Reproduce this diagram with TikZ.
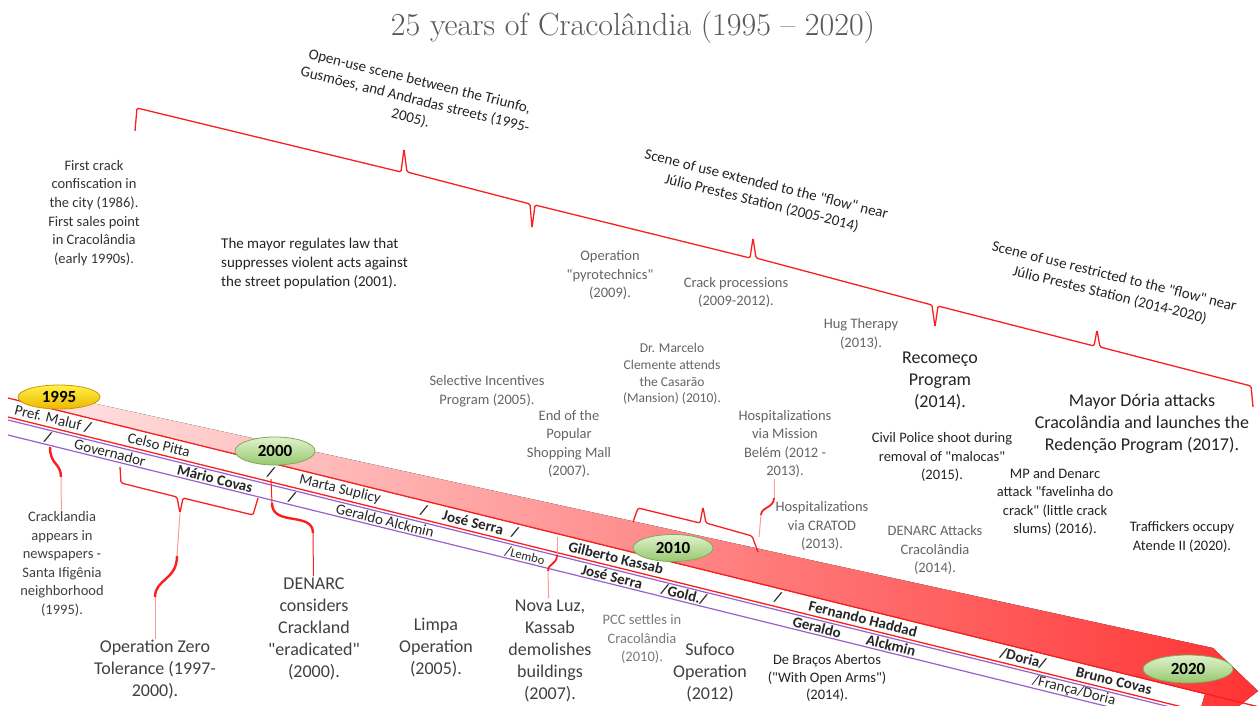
\documentclass[tikz,border=0pt]{standalone}
\usepackage{fontspec}
\newfontfamily\carlito{Carlito}
\usetikzlibrary{shapes.geometric}

\definecolor{lnred}{RGB}{250,30,30}
\definecolor{lnpurple}{RGB}{155,95,205}
\definecolor{txtdark}{RGB}{35,35,35}
\definecolor{txtmid}{RGB}{64,64,64}
\definecolor{txtgray}{RGB}{100,100,100}
\definecolor{greenhi}{RGB}{225,242,205}
\definecolor{greenlo}{RGB}{150,200,110}
\definecolor{greenln}{RGB}{125,170,90}
\definecolor{goldhi}{RGB}{255,242,70}
\definecolor{goldlo}{RGB}{238,182,0}
\definecolor{goldln}{RGB}{205,150,0}

\tikzset{
  bigtxt/.style={align=center,inner sep=1pt,text=txtmid,font=\carlito\fontsize{18}{22}\selectfont},
  darktxt/.style={bigtxt,text=txtdark},
  medtxt/.style={align=center,inner sep=1pt,text=txtdark,font=\carlito\fontsize{14.5}{18.6}\selectfont},
  graytxt/.style={medtxt,text=txtgray},
  toptxt/.style={align=center,rotate=-13.9,inner sep=1pt,text=txtdark,font=\carlito\fontsize{15}{19}\selectfont},
  onband/.style={rotate=-13.9,inner sep=0pt,text=black!85,font=\carlito\fontsize{15}{15}\selectfont},
  onbandb/.style={onband,font=\carlito\bfseries\fontsize{15}{15}\selectfont},
  divider/.style={onbandb},
  yearball/.style={ellipse,minimum width=80pt,minimum height=27pt,inner sep=0pt,
    top color=greenhi,bottom color=greenlo,draw=greenln,line width=0.8pt,
    font=\carlito\bfseries\fontsize{17}{17}\selectfont},
  pale/.style={draw=red!40,line width=1pt},
  curl/.style={draw=lnred,line width=2.4pt},
  brc/.style={draw=lnred,line width=1.3pt,rounded corners=1.5pt},
}

\begin{document}
\begin{tikzpicture}[x=1pt,y=-1pt]
\useasboundingbox (0,0) rectangle (1260,706);
\clip (0,0) rectangle (1260,706);

\node (title) at (633,28) {\fontsize{32}{34}\selectfont\color{black!65}25 years of Cracolândia (1995 – 2020)};

% the arrow band and its four lines
\fill[left color=red!12,right color=red!80] (60,396) -- (1213,648) -- (1258,691) -- (1190,745) -- (1205,694) -- (60,411) -- cycle;
\draw[lnred,line width=1.3pt] (8,398) -- (1260,707.2);
\draw[lnred,line width=1.3pt] (8,417) -- (1260,726.2);
\draw[lnpurple,line width=1.2pt] (8,420) -- (1260,729.2);
\draw[lnpurple,line width=1.2pt] (8,435) -- (1260,744.2);

% years
\node[yearball,minimum width=82pt,minimum height=24pt,top color=goldhi,bottom color=goldlo,draw=goldln] (y1995) at (59,397) {1995};
\node[yearball,minimum height=28pt] (y2000) at (275,451) {2000};
\node[yearball] (y2010) at (673,548) {2010};
\node[yearball,minimum width=90pt,minimum height=28pt] (y2020) at (1188,669) {2020};

% mayors
\node[onband] (mMaluf) at (48,417.4) {Pref. Maluf};
\node[divider] (d1) at (88,427.3) {/};
\node[onband] (mPitta) at (159,444.8) {Celso Pitta};
\node[divider] (d2) at (271,472.5) {/};
\node[onband] (mMarta) at (340,489.5) {Marta Suplicy};
\node[divider] (d3) at (424,510.3) {/};
\node[onbandb] (mSerra) at (473,522.4) {José Serra};
\node[divider] (d4) at (515,532.7) {/};
\node[onbandb] (mKassab) at (616,557.7) {Gilberto Kassab};
\node[divider] (d5) at (778,597.7) {/};
\node[onbandb] (mHaddad) at (863,618.7) {Fernando Haddad};
\node[onbandb] (mDoria) at (1023,658.2) {/Doria/};
\node[onbandb] (mCovas) at (1114,680.7) {Bruno Covas};

% governors
\node[divider] (d6) at (48,437.4) {/};
\node[onband] (gGov) at (110,452.7) {Governador};
\node[onbandb] (gCovas) at (215,478.6) {Mário Covas};
\node[divider] (d7) at (292,497.6) {/};
\node[onband] (gAlckmin) at (385,520.6) {Geraldo Alckmin};
\node[onband] (gLembo) at (525,555.2) {/{\fontsize{12.5}{13}\selectfont Lembo}};
\node[onbandb] (gSerra) at (612,576.7) {José Serra};
\node[onbandb] (gGold) at (684,594.5) {/Gold./};
\node[onbandb] (gGeraldo) at (817,627.3) {Geraldo};
\node[onbandb] (gAlck) at (891,645.6) {Alckmin};
\node[onband] (gFranca) at (1074,690.8) {/França/Doria};

% braces
\draw[brc] (135,131) -- (137,108) -- (401,172) -- (404,149) -- (407,172) -- (530,204) -- (532,228)
  -- (535,205) -- (750,258) -- (753,238) -- (756,258) -- (932,305) -- (935,327) -- (938,306)
  -- (1094,346) -- (1097,330) -- (1100,347) -- (1251,386) -- (1253,407);
\draw[brc] (120,467) -- (121,483) -- (177,497) -- (180,513) -- (183,498) -- (253,515) -- (258,498);
\draw[brc] (633,522) -- (638,508) -- (700,523) -- (703,507) -- (706,523) -- (752,536) -- (758,552);

\node[toptxt] (openuse) at (415,100) {Open-use scene between the Triunfo,\\Gusmões, and Andradas streets (1995-\\2005).};
\node[toptxt] (extended) at (764,194) {Scene of use extended to the "flow" near\\Júlio Prestes Station (2005-2014)};
\node[toptxt] (restricted) at (1112,286) {Scene of use restricted to the "flow" near\\Júlio Prestes Station (2014-2020)};

% events above the band
\node[medtxt,text=black!80] (firstcrack) at (94,213) {First crack\\confiscation in\\the city (1986).\\First sales point\\in Cracolândia\\(early 1990s).};
\node[medtxt,align=left,anchor=west,font=\carlito\fontsize{15}{18.6}\selectfont] (mayorlaw) at (220,263.5) {The mayor regulates law that\\suppresses violent acts against\\the street population (2001).};
\node[graytxt] (pyro) at (610,275) {Operation\\"pyrotechnics"\\(2009).};
\node[graytxt] (procs) at (736,292.5) {Crack processions\\(2009-2012).};
\node[graytxt] (hug) at (861,334) {Hug Therapy\\(2013).};
\node[darktxt] (recomeco) at (940,381) {Recomeço\\Program\\(2014).};
\node[darktxt] (doria) at (1142,424) {Mayor Dória attacks\\Cracolândia and launches the\\Redenção Program (2017).};
\node[medtxt] (civil) at (942,457) {Civil Police shoot during\\removal of "malocas"\\(2015).};
\node[medtxt] (mpdenarc) at (1055,502) {MP and Denarc\\attack "favelinha do\\crack" (little crack\\slums) (2016).};
\node[medtxt] (traffick) at (1182,537) {Traffickers occupy\\Atende II (2020).};
\node[graytxt] (denarcatk) at (935,550) {DENARC Attacks\\Cracolândia\\(2014).};
\node[graytxt] (cratod) at (822,526) {Hospitalizations\\via CRATOD\\(2013).};
\node[graytxt] (mission) at (785,444) {Hospitalizations\\via Mission\\Belém (2012 -\\2013).};
\node[graytxt,font=\carlito\fontsize{13.5}{16.7}\selectfont] (marcelo) at (672,374) {Dr. Marcelo\\Clemente attends\\the Casarão\\(Mansion) (2010).};
\node[graytxt] (selective) at (487,391.5) {Selective Incentives\\Program (2005).};
\node[graytxt] (endmall) at (569,444) {End of the\\Popular\\Shopping Mall\\(2007).};

% events below the band
\node[medtxt,text=txtmid] (crackl) at (62,564) {Cracklandia\\appears in\\newspapers -\\Santa Ifigênia\\neighborhood\\(1995).};
\node[bigtxt] (zerotol) at (155,670) {Operation Zero\\Tolerance (1997-\\2000).};
\node[bigtxt] (denarccons) at (314,628.5) {DENARC\\considers\\Crackland\\"eradicated"\\(2000).};
\node[bigtxt] (limpa) at (436,648) {Limpa\\Operation\\(2005).};
\node[bigtxt] (novaluz) at (550,650.5) {Nova Luz,\\Kassab\\demolishes\\buildings\\(2007).};
\node[graytxt,text=black!52] (pcc) at (642,639) {PCC settles in\\Cracolândia\\(2010).};
\node[bigtxt] (sufoco) at (710,673) {Sufoco\\Operation\\(2012)};
\node[medtxt,font=\carlito\fontsize{14.5}{17.5}\selectfont] (bracos) at (827,678) {De Braços Abertos\\("With Open Arms")\\(2014).};

% connectors
\coordinate (ckA) at (50,447);
\coordinate (ckB) at (61,477);
\draw[curl] (ckA) .. controls +(0,18) and +(0,-14) .. (ckB);
\draw[pale] (ckB) -- (crackl);

\coordinate (ztTip) at (180,513);
\coordinate (ztA) at (177,556);
\coordinate (ztB) at (155,597);
\draw[pale] (ztTip) -- (ztA);
\draw[curl] (ztA) .. controls +(0,24) and +(0,-18) .. (ztB);
\draw[pale] (ztB) -- (zerotol);

\coordinate (dcA) at (271,479);
\coordinate (dcB) at (272,503);
\coordinate (dcC) at (313,533);
\draw[lnred,line width=1pt] (dcA) -- (dcB);
\draw[curl] (dcB) .. controls +(0,24) and +(0,-22) .. (dcC);
\draw[lnred,line width=1pt] (dcC) -- (denarccons);

\coordinate (nlA) at (557,537);
\coordinate (nlB) at (557,555);
\coordinate (nlC) at (548,571);
\draw[pale] (nlA) -- (nlB);
\draw[curl,line width=1.8pt] (nlB) .. controls +(0,10) and +(0,-8) .. (nlC);
\draw[pale] (nlC) -- (novaluz);

\coordinate (hsA) at (774,498);
\coordinate (hsB) at (761,515);
\coordinate (hsC) at (759,537);
\draw[pale] (mission.south -| hsA) -- (hsA);
\draw[curl,line width=1.8pt] (hsA) .. controls +(0,10) and +(0,-8) .. (hsB);
\draw[pale] (hsB) -- (hsC);
\end{tikzpicture}
\end{document}
